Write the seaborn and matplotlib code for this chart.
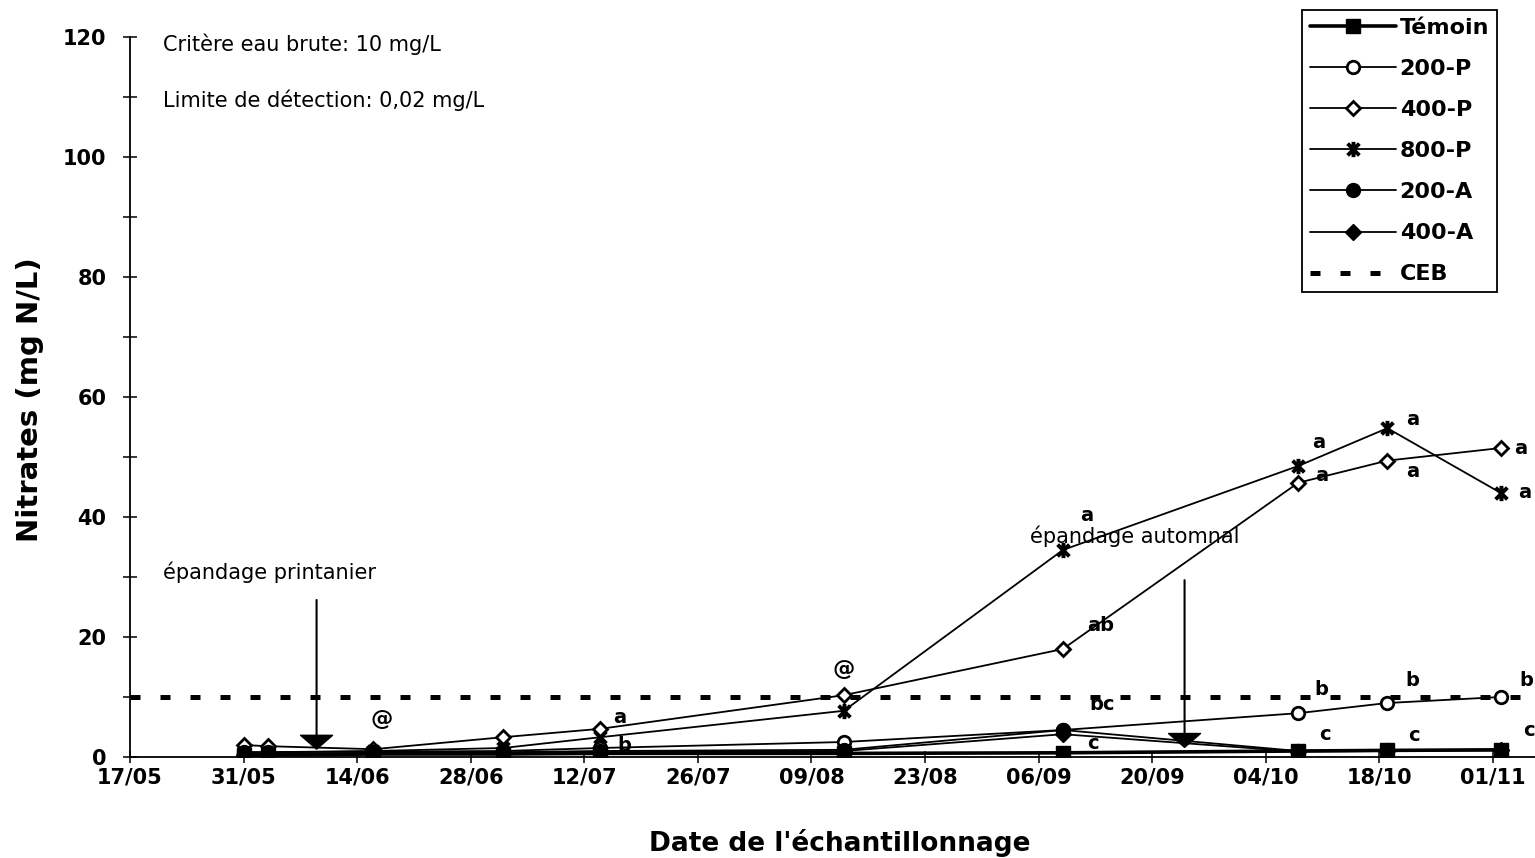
import numpy as np
import pandas as pd
import matplotlib
matplotlib.use("Agg")
import matplotlib.pyplot as plt
import seaborn as sns
from matplotlib.lines import Line2D
from matplotlib.path import Path

# ---------------- data ----------------
YEAR = 2001
sample_dates = ["31/05", "03/06", "16/06", "02/07", "14/07", "13/08", "09/09", "08/10", "19/10", "02/11"]
temoin = [0.3, 0.3, 0.5, 0.5, 0.6, 0.6, 0.7, 1.0, 1.1, 1.2]
p200 = [0.8, 0.8, 0.9, 1.0, 1.5, 2.5, 4.5, 7.3, 9.0, 10.0]
p400 = [2.0, 1.8, 1.3, 3.3, 4.7, 10.3, 18.0, 45.7, 49.4, 51.5]
p800 = [0.8, 0.8, 1.0, 1.5, 3.3, 7.7, 34.5, 48.5, 54.8, 44.0]
a200 = [0.5, 0.5, 0.7, 0.8, 1.0, 1.2, 4.5, 1.0, 1.1, 1.2]
a400 = [0.4, 0.4, 0.6, 0.7, 0.8, 1.0, 3.8, 0.9, 1.0, 1.1]
ceb_value = 10
series_names = ["Témoin", "200-P", "400-P", "800-P", "200-A", "400-A"]
tick_labels = ["17/05", "31/05", "14/06", "28/06", "12/07", "26/07", "09/08",
               "23/08", "06/09", "20/09", "04/10", "18/10", "01/11"]
y_ticks = [0, 20, 40, 60, 80, 100, 120]
spring_date, autumn_date = "09/06", "24/09"

# significance letters: (series, sample index, text, offset in points)
letters = [
    ("400-P", 2, "@", (6, 22)),
    ("400-P", 5, "@", (0, 19)),
    ("400-P", 4, "a", (14, 8)),
    ("Témoin", 4, "b", (17, 6)),
    ("800-P", 6, "a", (17, 25)),
    ("400-P", 6, "ab", (27, 17)),
    ("200-A", 6, "bc", (28, 18)),
    ("Témoin", 6, "c", (22, 7)),
    ("800-P", 7, "a", (15, 17)),
    ("400-P", 7, "a", (17, 5)),
    ("200-P", 7, "b", (17, 17)),
    ("Témoin", 7, "c", (19, 12)),
    ("800-P", 8, "a", (18, 6)),
    ("400-P", 8, "a", (18, -8)),
    ("200-P", 8, "b", (18, 16)),
    ("Témoin", 8, "c", (19, 11)),
    ("400-P", 9, "a", (14, 0)),
    ("800-P", 9, "a", (17, 0)),
    ("200-P", 9, "b", (18, 12)),
    ("Témoin", 9, "c", (20, 14)),
]

# ---------------- build table ----------------
def to_date(s):
    return pd.to_datetime(f"{s}/{YEAR}", format="%d/%m/%Y")

dates = [to_date(s) for s in sample_dates]
values = dict(zip(series_names, [temoin, p200, p400, p800, a200, a400]))
df = pd.DataFrame([
    {"series": n, "date": d, "value": v}
    for n in series_names for d, v in zip(dates, values[n])
])

# ---------------- styles ----------------
star = Path([(-1, -1), (1, 1), (-1, 1), (1, -1), (0, -1.3), (0, 1.3)],
            [Path.MOVETO, Path.LINETO, Path.MOVETO, Path.LINETO, Path.MOVETO, Path.LINETO])
styles = {
    "Témoin": dict(marker="s", markersize=10, markerfacecolor="black", markeredgewidth=1, linewidth=2.6, zorder=8),
    "200-P": dict(marker="o", markersize=9, markerfacecolor="white", markeredgewidth=2, linewidth=1.3, zorder=7),
    "400-P": dict(marker="D", markersize=7.5, markerfacecolor="white", markeredgewidth=2, linewidth=1.3, zorder=6),
    "800-P": dict(marker=star, markersize=11, markerfacecolor="none", markeredgewidth=2.8, linewidth=1.3, zorder=5),
    "200-A": dict(marker="o", markersize=10, markerfacecolor="black", markeredgewidth=1, linewidth=1.3, zorder=7.5),
    "400-A": dict(marker="D", markersize=8, markerfacecolor="black", markeredgewidth=1, linewidth=1.3, zorder=3),
}

# ---------------- figure ----------------
sns.set_style("ticks")
plt.rcParams["font.family"] = ["DejaVu Sans"]
plt.rcParams["text.color"] = "black"
plt.rcParams["axes.labelcolor"] = "black"
plt.rcParams["xtick.color"] = "black"
plt.rcParams["ytick.color"] = "black"

W, H = 1535, 858
fig = plt.figure(figsize=(W / 100, H / 100), dpi=100)
ax = fig.add_axes([130 / W, 101 / H, 1 - 130 / W, 720 / H])

for name in series_names[::-1]:
    sub = df[df["series"] == name]
    sns.lineplot(data=sub, x="date", y="value", ax=ax, color="black",
                 markeredgecolor="black", errorbar=None, legend=False,
                 **styles[name])

ax.axhline(ceb_value, color="black", linewidth=3.6, linestyle=(0, (2, 4)),
           dash_capstyle="butt", zorder=2)

# axes
start = to_date(tick_labels[0])
ax.set_xlim(start, start + pd.Timedelta(days=173.2))
ax.set_ylim(y_ticks[0], y_ticks[-1])
ax.set_xticks([to_date(t) for t in tick_labels])
ax.set_xticklabels(tick_labels, fontsize=15, fontweight="bold", color="black")
ax.set_yticks(y_ticks)
ax.set_yticklabels([str(t) for t in y_ticks], fontsize=15, fontweight="bold", color="black")
ax.set_yticks(np.arange(10, 120, 20), minor=True)
ax.tick_params(axis="y", which="both", direction="inout", length=10, width=1.1, pad=12, colors="black")
ax.tick_params(axis="x", which="major", direction="inout", length=9, width=1.1, pad=3, colors="black")
for s in ["top", "right"]:
    ax.spines[s].set_visible(False)
for s in ["left", "bottom"]:
    ax.spines[s].set_linewidth(1.3)
    ax.spines[s].set_color("black")
ax.set_xlabel("")
ax.set_ylabel("")

fig.text(30 / W, 1 - 400 / H, "Nitrates (mg N/L)", rotation=90, fontsize=21,
         fontweight="bold", ha="center", va="center", color="black")
fig.text(840 / W, 1 - 843 / H, "Date de l'échantillonnage", fontsize=19,
         fontweight="bold", ha="center", va="center", color="black")

fig.text(163 / W, 1 - 44 / H, "Critère eau brute: 10 mg/L", fontsize=15, ha="left", va="center", color="black")
fig.text(163 / W, 1 - 100 / H, "Limite de détection: 0,02 mg/L", fontsize=15, ha="left", va="center", color="black")

# letters
for name, i, txt, off in letters:
    ax.annotate(txt, xy=(dates[i], values[name][i]), xytext=off, textcoords="offset points",
                ha="center", va="center", fontsize=16 if txt == "@" else 14,
                fontweight="bold", color="black", zorder=10)

# application arrows
arrow = dict(width=0.5, headwidth=23, headlength=10, facecolor="black", edgecolor="black", shrink=0)
ax.annotate("", xy=(to_date(spring_date), 1.3), xytext=(to_date(spring_date), 26.2),
            arrowprops=arrow, zorder=9)
ax.annotate("", xy=(to_date(autumn_date), 1.6), xytext=(to_date(autumn_date), 29.5),
            arrowprops=arrow, zorder=9)
fig.text(163 / W, 1 - 572 / H, "épandage printanier", fontsize=15, ha="left", va="center", color="black")
fig.text(1030 / W, 1 - 536 / H, "épandage automnal", fontsize=15, ha="left", va="center",
         color="black", zorder=10)

# legend
handles = []
for name in series_names:
    st = {k: v for k, v in styles[name].items() if k != "zorder"}
    handles.append(Line2D([], [], color="black", markeredgecolor="black", **st))
handles.append(Line2D([], [], color="black", linewidth=3.6, linestyle=(0, (2, 4)), dash_capstyle="butt"))
leg = ax.legend(handles, series_names + ["CEB"], loc="upper right",
                bbox_to_anchor=(1497 / W, 1 - 10 / H), bbox_transform=fig.transFigure,
                frameon=True, fancybox=False, framealpha=1, edgecolor="black",
                prop=dict(size=16, weight="bold"), handlelength=3.9, handletextpad=0.15,
                labelspacing=0.95, borderpad=0.35, borderaxespad=0, numpoints=1)
leg.get_frame().set_linewidth(1.3)
for t in leg.get_texts():
    t.set_color("black")

fig.savefig("out.png", dpi=100)
